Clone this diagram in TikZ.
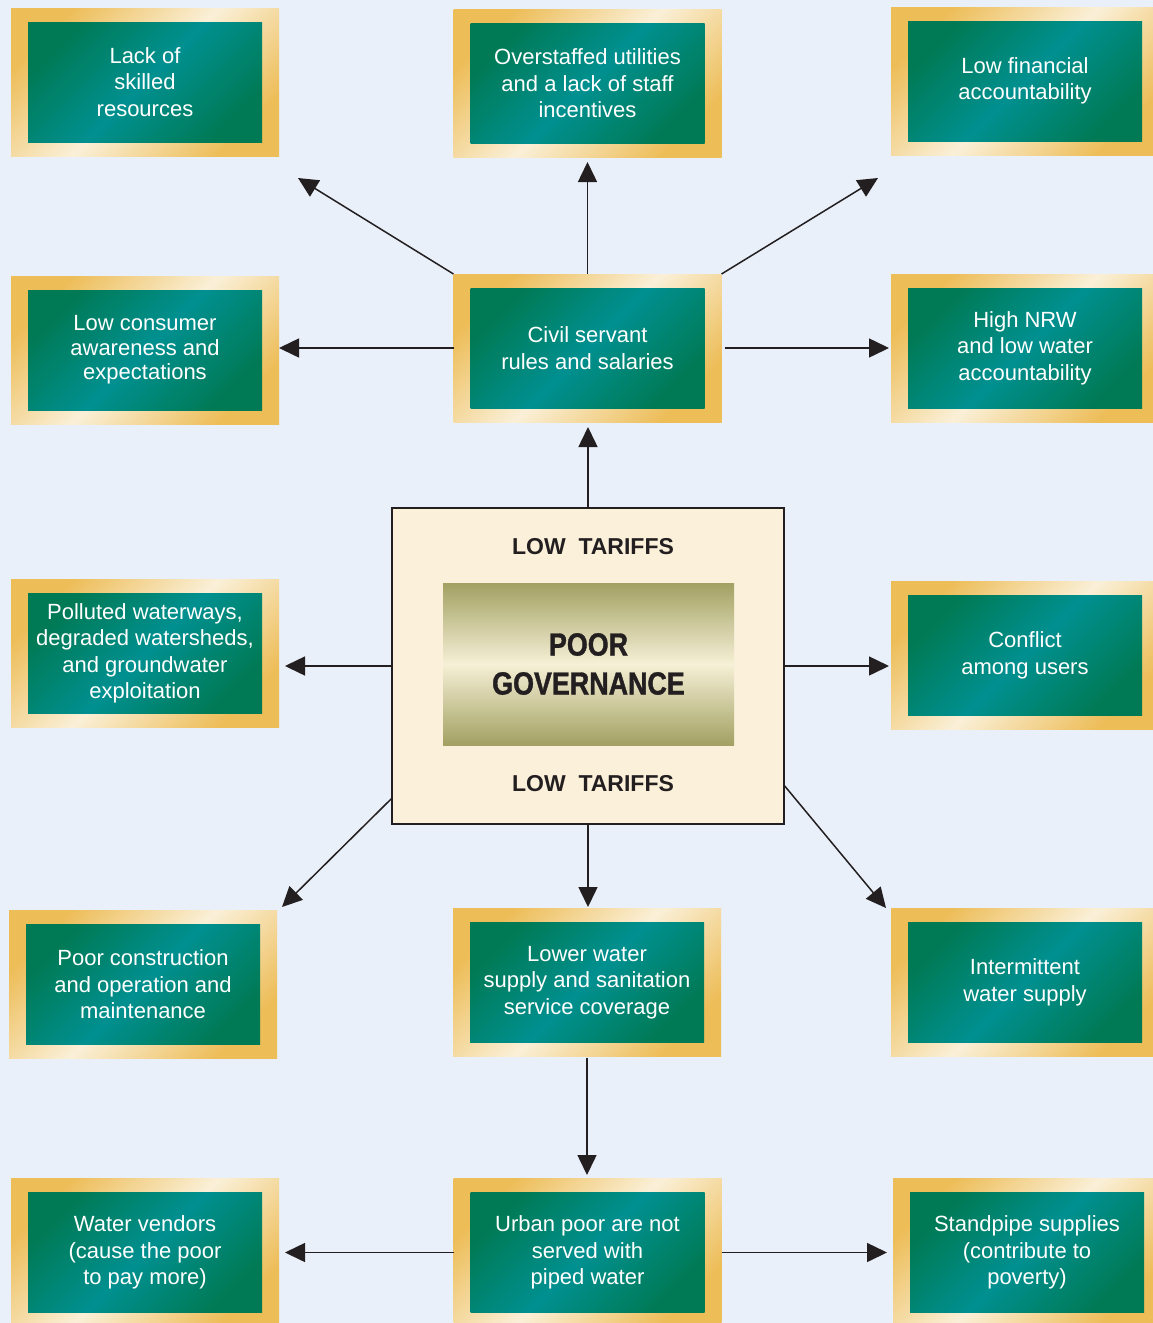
\documentclass[tikz,border=0pt]{standalone}
\usepackage{fontspec}
\setmainfont{Liberation Sans}
\newfontfamily\condfont[FakeStretch=0.84,FakeBold=1.2]{Liberation Sans Bold}
\usetikzlibrary{arrows.meta,calc}
\definecolor{bg}{HTML}{E9F0F9}
\definecolor{gold}{HTML}{EDBD58}
\definecolor{cream}{HTML}{FAF0D8}
\definecolor{tealdark}{HTML}{007A55}
\definecolor{teallight}{HTML}{009090}
\definecolor{ink}{HTML}{231F20}
\definecolor{olive}{HTML}{A2A062}
\definecolor{paleolive}{HTML}{F6F0D6}
\definecolor{centerfill}{HTML}{FBF0DA}
\tikzset{
  frame/.style={minimum width=268pt, minimum height=148pt, inner sep=0pt, outer sep=0pt,
    top color=gold, bottom color=gold, middle color=cream, shading angle=45},
  panel/.style={minimum width=234pt, minimum height=120pt, inner sep=0pt, outer sep=0pt,
    top color=tealdark, bottom color=tealdark, middle color=teallight, shading angle=45,
    text=white, align=center, font=\fontsize{22}{26.5}\selectfont},
  link/.style={draw=ink, line width=1.5pt, -{Triangle[length=20pt,width=19pt]}},
  tariff/.style={font=\bfseries\fontsize{23}{27}\selectfont, text=ink, inner sep=0pt},
}
\begin{document}
\begin{tikzpicture}[x=1pt,y=-1pt]
\fill[bg] (0,0) rectangle (1153,1323);
\useasboundingbox (0,0) rectangle (1153,1323);

% row 1
\node[frame] (A) at (145,82) {};
\node[panel] (a) at (A.center) {Lack of\\skilled\\resources};
\node[frame] (B) at (587.5,83.5) {};
\node[panel] (b) at (B.center) {Overstaffed utilities\\and a lack of staff\\incentives};
\node[frame] (C) at (1025,81) {};
\node[panel] (c) at (C.center) {Low financial\\accountability};

% row 2
\node[frame] (D) at (145,350) {};
\node[panel, font=\fontsize{22}{24.5}\selectfont] (d) at (D.center) {Low consumer\\awareness and\\expectations};
\node[frame] (E) at (587.5,348) {};
\node[panel] (e) at (E.center) {Civil servant\\rules and salaries};
\node[frame] (F) at (1025,348) {};
\node[panel] (f) at (F.center) {High NRW\\and low water\\accountability};

% row 3
\node[frame] (G) at (145,653.5) {};
\node[panel] (g) at (G.center) {Polluted waterways,\\degraded watersheds,\\and groundwater\\exploitation};
\node[frame] (H) at (1025,655.5) {};
\node[panel] (h) at (H.center) {Conflict\\among users};

% central
\node[draw=ink, line width=1.5pt, fill=centerfill, minimum width=392pt, minimum height=316pt,
  inner sep=0pt, outer sep=0pt] (Cen) at (588,666) {};
\node[minimum width=291pt, minimum height=162pt, inner sep=0pt, outer sep=0pt,
  top color=olive, bottom color=olive, middle color=paleolive,
  font=\condfont\fontsize{32}{39}\selectfont, text=ink, align=center] (core) at (588.5,664) {POOR\\GOVERNANCE};
\node[tariff] (lt1) at (593,547) {LOW\ \ TARIFFS};
\node[tariff] (lt2) at (593,784) {LOW\ \ TARIFFS};

% row 4
\node[frame] (I) at (143,984.5) {};
\node[panel] (i) at (I.center) {Poor construction\\and operation and\\maintenance};
\node[frame] (J) at (587,982.5) {};
\node[panel] (j) at (J.center) {Lower water\\supply and sanitation\\service coverage};
\node[frame] (K) at (1025,982.5) {};
\node[panel] (k) at (K.center) {Intermittent\\water supply};

% row 5
\node[frame] (L) at (145,1252.5) {};
\node[panel] (l) at (L.center) {Water vendors\\(cause the poor\\to pay more)};
\node[frame] (M) at (587.5,1252.5) {};
\node[panel] (m) at (M.center) {Urban poor are not\\served with\\piped water};
\node[frame] (N) at (1027,1252.5) {};
\node[panel] (n) at (N.center) {Standpipe supplies\\(contribute to\\poverty)};

% arrow tips
\coordinate (t1) at (298,178);
\coordinate (t2) at (587.5,162);
\coordinate (t3) at (878,178);
\coordinate (t4) at (279,348);
\coordinate (t5) at (889,348);
\coordinate (t6) at (588,427);
\coordinate (t7) at (285,666);
\coordinate (t8) at (889,666);
\coordinate (t9) at (282,907);
\coordinate (t10) at (588,907);
\coordinate (t11) at (886,908);
\coordinate (t12) at (587,1175);
\coordinate (t13) at (285,1252.5);
\coordinate (t14) at (887,1252.5);

\draw[link] (E.north west) -- (t1);
\draw[link] (E.north) -- (t2);
\draw[link] (E.north east) -- (t3);
\draw[link] (E.west) -- (t4);
\draw[link] ([xshift=3pt]E.east) -- (t5);
\draw[link] (Cen.north) -- (t6);
\draw[link] (Cen.west) -- (t7);
\draw[link] (Cen.east) -- (t8);
\draw[link] ($(Cen.south west)!0.082!(Cen.north west)$) -- (t9);
\draw[link] (Cen.south) -- (t10);
\draw[link] ($(Cen.south east)!0.123!(Cen.north east)$) -- (t11);
\draw[link] ([yshift=-1pt]J.south) -- (t12);
\draw[link] (M.west) -- (t13);
\draw[link] (M.east) -- (t14);
\end{tikzpicture}
\end{document}
